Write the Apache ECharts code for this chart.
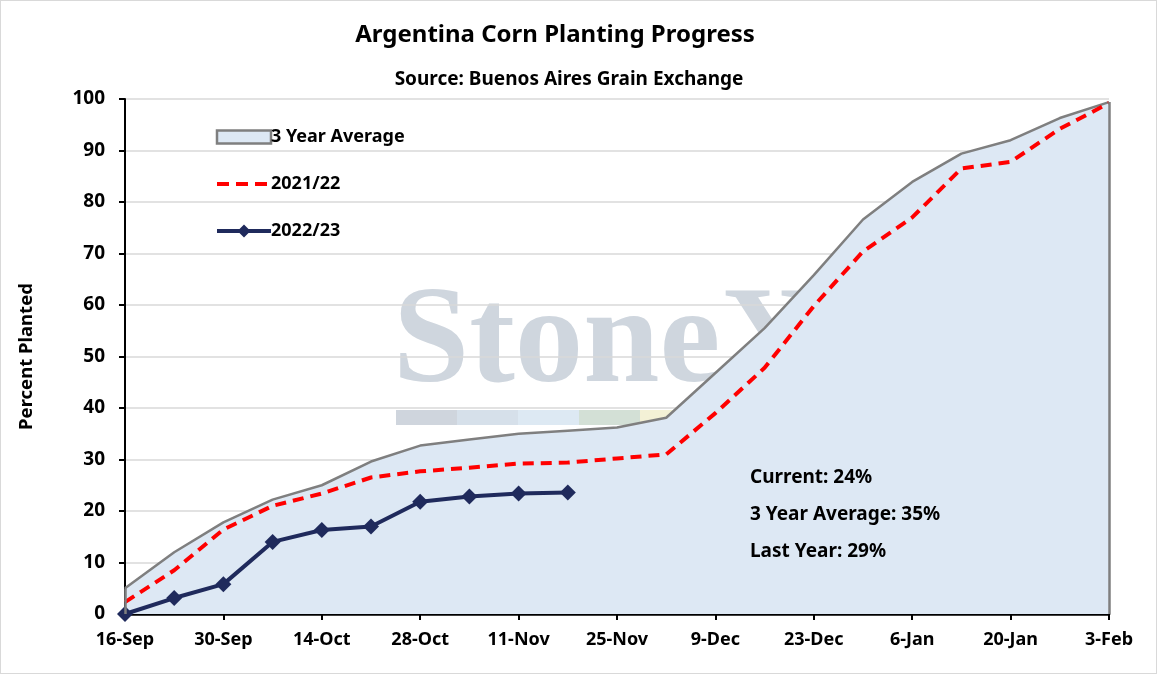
<!DOCTYPE html>
<html>
<head>
<meta charset="utf-8">
<script src="https://cdn.jsdelivr.net/npm/echarts@6/dist/echarts.min.js"></script>
<style>
html, body { margin: 0; padding: 0; background: #fff; }
#chart { width: 1157px; height: 674px; box-sizing: border-box; border: 1px solid #d9d9d9; }
</style>
</head>
<body>
<div id="chart"></div>
<script>
var weeks = ['16-Sep','23-Sep','30-Sep','7-Oct','14-Oct','21-Oct','28-Oct','4-Nov','11-Nov','18-Nov',
             '25-Nov','2-Dec','9-Dec','16-Dec','23-Dec','30-Dec','6-Jan','13-Jan','20-Jan','27-Jan','3-Feb'];
var avg3yr = [5, 12, 17.8, 22.2, 25, 29.6, 32.7, 33.9, 35, 35.6, 36.2, 38.1, 46.8, 55.5, 65.8, 76.6, 83.9, 89.4, 92, 96.3, 99.4];
var y2021 = [2.3, 8.5, 16.4, 21, 23.4, 26.5, 27.7, 28.4, 29.2, 29.4, 30.2, 31, 39, 47.8, 59.8, 70.4, 77, 86.5, 87.8, 94.2, 99.2];
var y2022 = [0, 3.1, 5.8, 14, 16.3, 17, 21.8, 22.8, 23.4, 23.6];
var notes = ['Current: 24%', '3 Year Average: 35%', 'Last Year: 29%'];

var font = 'Noto Sans';
var mychart = echarts.init(document.getElementById('chart'));

var noteEls = notes.map(function (t, i) {
    return {
        type: 'text', left: 749, top: 467 + i * 37, z: 10,
        style: { text: t, font: 'bold 19px "' + font + '"', fill: '#000' }
    };
});
var stripe = ['#cfd5dd', '#d6e0ea', '#dde9f3', '#d3e0d6', '#f3f1d6'];
var stripeEls = stripe.map(function (c, i) {
    return { type: 'rect', z: -1, shape: { x: 395 + i * 61, y: 409, width: 61, height: 15 }, style: { fill: c } };
});

option = {
    backgroundColor: '#fff',
    animation: false,
    textStyle: { fontFamily: font },
    title: [
        {
            text: 'Argentina Corn Planting Progress',
            left: 549, top: 17, textAlign: 'center',
            textStyle: { fontSize: 24, fontWeight: 'bold', color: '#000' }
        },
        {
            text: 'Source: Buenos Aires Grain Exchange',
            left: 563, top: 64, textAlign: 'center',
            textStyle: { fontSize: 19, fontWeight: 'bold', color: '#000' }
        }
    ],
    legend: {
        orient: 'vertical',
        left: 209, top: 122,
        itemWidth: 54, itemHeight: 13, itemGap: 29,
        textStyle: { fontSize: 18, fontWeight: 'bold', color: '#000', padding: [0, 0, 0, -5] },
        data: [
            { name: '3 Year Average', icon: 'rect', itemStyle: { color: '#dde8f4', borderColor: '#7f7f7f', borderWidth: 2.5 } },
            { name: '2021/22', itemStyle: { opacity: 0 }, lineStyle: { width: 4, type: [12, 7] } },
            { name: '2022/23', icon: 'path://M0,4.5H54V8.5H0Z M27,0L33.5,6.5L27,13L20.5,6.5Z' }
        ]
    },
    grid: { left: 124, right: 47, top: 98, bottom: 59 },
    xAxis: {
        type: 'category',
        boundaryGap: false,
        data: weeks,
        axisLine: { lineStyle: { color: '#000', width: 2.5 } },
        axisTick: { interval: 1, length: 6, lineStyle: { color: '#000', width: 2 } },
        axisLabel: { interval: 1, margin: 17, fontSize: 18, fontWeight: 'bold', color: '#000' }
    },
    yAxis: {
        type: 'value',
        min: 0, max: 100, interval: 10,
        name: 'Percent Planted',
        nameLocation: 'middle',
        nameGap: 89,
        nameTextStyle: { fontSize: 18.5, fontWeight: 'bold', color: '#000' },
        axisLine: { show: true, lineStyle: { color: '#000', width: 2 } },
        axisTick: { show: true, length: 6, lineStyle: { color: '#000', width: 2 } },
        axisLabel: { margin: 20, fontSize: 19, fontWeight: 'bold', color: '#000' },
        splitLine: { lineStyle: { color: '#d9d9d9', width: 1.5 } }
    },
    graphic: [
        {
            type: 'text', left: 392, top: 276, z: -1,
            style: { text: 'StoneX', font: 'bold 137px "Liberation Serif"', fill: '#cfd6de' }
        }
    ].concat(stripeEls, noteEls),
    series: [
        {
            name: '3 Year Average',
            type: 'line',
            data: avg3yr,
            symbol: 'none',
            lineStyle: { color: '#7f7f7f', width: 2.5 },
            itemStyle: { color: '#7f7f7f' },
            areaStyle: { color: '#dde8f4', opacity: 1 },
            markLine: {
                silent: true,
                symbol: 'none',
                label: { show: false },
                lineStyle: { color: '#7f7f7f', width: 2.5, type: 'solid' },
                data: [
                    [{ coord: [0, 0] }, { coord: [0, avg3yr[0]] }],
                    [{ coord: [weeks.length - 1, 0] }, { coord: [weeks.length - 1, avg3yr[weeks.length - 1]] }]
                ]
            }
        },
        {
            name: '2021/22',
            type: 'line',
            data: y2021,
            symbol: 'none',
            lineStyle: { color: '#ff0000', width: 4, type: [11, 7] },
            itemStyle: { color: '#ff0000' }
        },
        {
            name: '2022/23',
            type: 'line',
            data: y2022,
            symbol: 'diamond',
            symbolSize: 16,
            lineStyle: { color: '#1f2a5c', width: 4 },
            itemStyle: { color: '#1f2a5c' }
        }
    ]
};
mychart.setOption(option, true);
</script>
</body>
</html>
